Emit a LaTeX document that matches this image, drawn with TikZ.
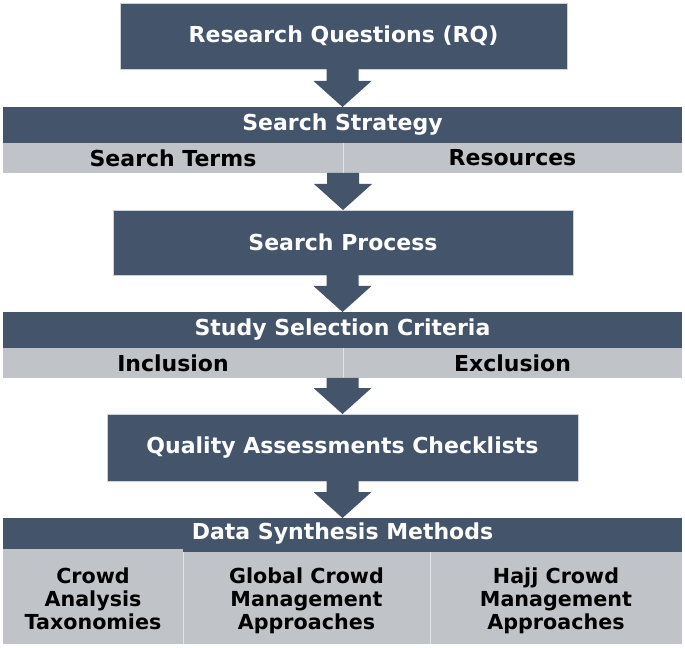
\documentclass[tikz,border=0pt]{standalone}
\usepackage{fontspec}
\setmainfont{DejaVu Sans}
\usetikzlibrary{calc,fit}
\definecolor{slate}{HTML}{44546A}
\definecolor{cellgray}{HTML}{C0C3C8}
\definecolor{edgecol}{HTML}{CDD2D9}
\definecolor{divcol}{HTML}{E2E4E7}
\tikzset{
  box/.style={inner sep=0pt, outer sep=0pt},
  darkbox/.style={box, fill=slate, draw=edgecol, line width=0.6pt},
  bandtitle/.style={box, fill=slate},
  graycell/.style={box, fill=cellgray},
  whitetext/.style={inner sep=0pt, outer sep=0pt, align=center, text=white,
    font=\fontsize{16.5}{19}\selectfont\bfseries},
  blacktext/.style={inner sep=0pt, outer sep=0pt, align=center, text=black,
    font=\fontsize{16.5}{19}\selectfont\bfseries},
  lowtext/.style={inner sep=0pt, outer sep=0pt, align=center, text=black,
    font=\fontsize{15.5}{17.2}\selectfont\bfseries},
  divider/.style={draw=divcol, line width=0.6pt},
  flow/.style={fill=slate, draw=none}
}
\newcommand\flowarrow[2]{%
  \fill[flow] let \p1=(#1), \p2=(#2) in
    (\x2-12pt,\y1) -- (\x2+12pt,\y1) -- (\x2+12pt,\y2+19.5pt) --
    (\x2+21.75pt,\y2+19.5pt) -- (\x2,\y2) -- (\x2-21.75pt,\y2+19.5pt) --
    (\x2-12pt,\y2+19.5pt) -- cycle;}
\begin{document}
\begin{tikzpicture}[x=0.75pt,y=-0.75pt]
\useasboundingbox (0,0) rectangle (685,648);
\fill[white] (0,0) rectangle (685,648);

% Research questions
\node[darkbox, fit={(120,3) (567,69)}] (rq) {};
\node[whitetext] (rqt) at (rq.center) {Research Questions (RQ)};

% Search strategy band
\node[bandtitle, fit={(3,107) (682,143)}] (ss) {};
\node[whitetext] (sst) at (ss.center) {Search Strategy};
\node[graycell, fit={(3,143) (343,173)}] (terms) {};
\node[blacktext] (termst) at (terms.center) {Search Terms};
\node[graycell, fit={(343,143) (682,173)}] (res) {};
\node[blacktext] (rest) at (res.center) {Resources};
\draw[divider] (terms.north east) -- (terms.south east);

% Search process
\node[darkbox, fit={(113,210) (573,275)}] (sp) {};
\node[whitetext] (spt) at (sp.center) {Search Process};

% Study selection band
\node[bandtitle, fit={(3,312) (682,348)}] (ssc) {};
\node[whitetext] (ssct) at (ssc.center) {Study Selection Criteria};
\node[graycell, fit={(3,348) (343,378)}] (inc) {};
\node[blacktext] (inct) at (inc.center) {Inclusion};
\node[graycell, fit={(343,348) (682,378)}] (exc) {};
\node[blacktext] (exct) at (exc.center) {Exclusion};
\draw[divider] (inc.north east) -- (inc.south east);

% Quality assessment
\node[darkbox, fit={(107,414) (578,481)}] (qa) {};
\node[whitetext] (qat) at (qa.center) {Quality Assessments Checklists};

% Data synthesis band
\node[bandtitle, fit={(3,518) (682,552)}] (dsm) {};
\node[whitetext] (dsmt) at ($(dsm.center)+(0,-1)$) {Data Synthesis Methods};
\node[graycell, fit={(3,549) (183,644)}] (ca) {};
\node[lowtext] (cat) at ($(ca.center)+(0,2)$) {Crowd\\Analysis\\Taxonomies};
\node[graycell, fit={(183,552) (430,644)}] (gc) {};
\node[lowtext] (gct) at ($(gc.center)+(0,2.5)$) {Global Crowd\\Management\\Approaches};
\node[graycell, fit={(430,552) (682,644)}] (hc) {};
\node[lowtext] (hct) at ($(hc.center)+(0,2.5)$) {Hajj Crowd\\Management\\Approaches};
\draw[divider] (gc.north west) -- (gc.south west);
\draw[divider] (gc.north east) -- (gc.south east);

% Arrows
\flowarrow{rq.south}{ss.north}
\flowarrow{terms.south east}{sp.north}
\flowarrow{sp.south}{ssc.north}
\flowarrow{inc.south east}{qa.north}
\flowarrow{qa.south}{dsm.north}
\end{tikzpicture}
\end{document}
